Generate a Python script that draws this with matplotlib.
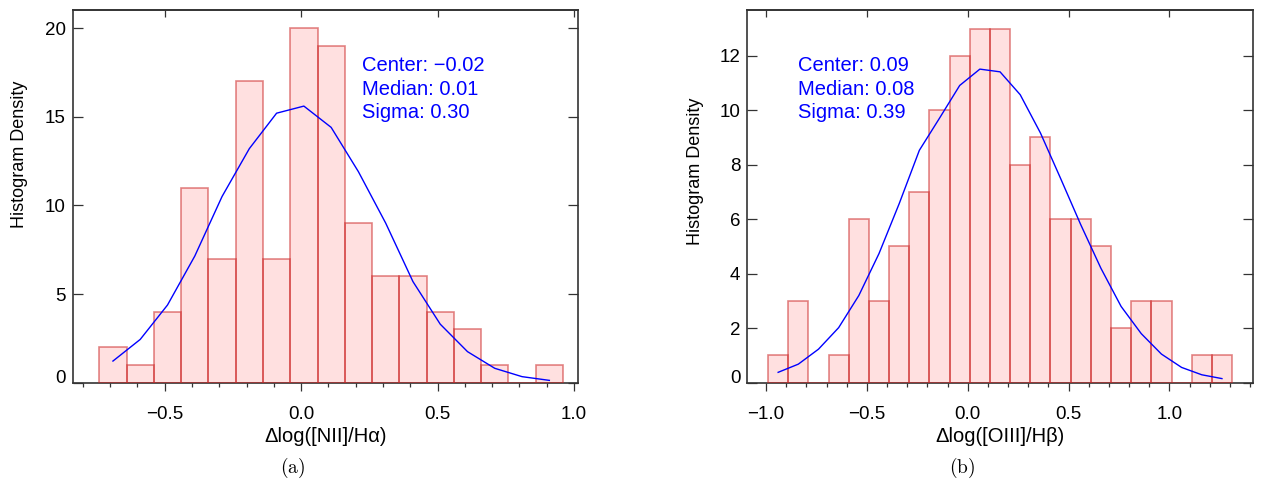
import matplotlib
matplotlib.use('Agg')
import matplotlib.pyplot as plt
from matplotlib.ticker import MultipleLocator, NullLocator

plt.rcParams['font.family'] = ['Liberation Sans', 'DejaVu Sans']
plt.rcParams['mathtext.fontset'] = 'cm'

BIN_WIDTH = 0.1

# Δlog([NII]/Hα) histogram
nii_centers = [-0.69, -0.59, -0.49, -0.39, -0.29, -0.19, -0.09, 0.01, 0.11,
               0.21, 0.31, 0.41, 0.51, 0.61, 0.71, 0.81, 0.91]
nii_counts = [2, 1, 4, 11, 7, 17, 7, 20, 19, 9, 6, 6, 4, 3, 1, 0, 1]
nii_fit = [1.22, 2.44, 4.38, 7.14, 10.5, 13.2, 15.2, 15.6, 14.4, 11.9, 9.0,
           5.7, 3.3, 1.75, 0.81, 0.34, 0.13]
nii_stats = ['Center: \u22120.02', 'Median: 0.01', 'Sigma: 0.30']

# Δlog([OIII]/Hβ) histogram
oiii_centers = [-0.94, -0.84, -0.74, -0.64, -0.54, -0.44, -0.34, -0.24, -0.14,
                -0.04, 0.06, 0.16, 0.26, 0.36, 0.46, 0.56, 0.66, 0.76, 0.86,
                0.96, 1.06, 1.16, 1.26]
oiii_counts = [1, 3, 0, 1, 6, 3, 5, 7, 10, 12, 13, 13, 8, 9, 6, 6, 5, 2, 3, 3,
               0, 1, 1]
oiii_fit = [0.38, 0.68, 1.23, 2.02, 3.2, 4.74, 6.57, 8.53, 9.71, 10.91, 11.51,
            11.41, 10.57, 9.17, 7.5, 5.8, 4.2, 2.8, 1.8, 1.05, 0.56, 0.29, 0.15]
oiii_stats = ['Center: 0.09', 'Median: 0.08', 'Sigma: 0.39']

AX_COLOR = '#333333'


def draw_panel(ax, centers, counts, fit, stats, xlabel, xlim, ylim, ystep,
               text_x, ylabel_pos):
    ax.bar(centers, counts, width=BIN_WIDTH, align='center',
           facecolor=(1, 0, 0, 0.12), edgecolor=(0.8, 0.15, 0.15, 0.55),
           linewidth=1.2, zorder=3)
    ax.plot(centers, fit, color='#0000ff', lw=1.0, zorder=4)

    ax.set_xlim(*xlim)
    ax.set_ylim(*ylim)

    for sp in ax.spines.values():
        sp.set_color(AX_COLOR)
        sp.set_linewidth(1.2)
        sp.set_zorder(2)

    # bottom: outward major + minor ticks, left/right: inward
    ax.xaxis.set_major_locator(MultipleLocator(0.5))
    ax.xaxis.set_minor_locator(MultipleLocator(0.1))
    ax.yaxis.set_major_locator(MultipleLocator(ystep))
    ax.yaxis.set_minor_locator(NullLocator())
    ax.tick_params(axis='x', which='major', direction='out', length=5.8,
                   width=0.9, color=AX_COLOR, pad=11, labelsize=13.5)
    ax.tick_params(axis='x', which='minor', direction='out', length=3.1,
                   width=0.9, color=AX_COLOR)
    ax.tick_params(axis='y', which='major', direction='in', length=7.2,
                   width=0.9, color=AX_COLOR, left=True, right=True,
                   pad=5, labelsize=13.5)

    # top axis: inward major ticks only
    top = ax.secondary_xaxis('top')
    top.xaxis.set_major_locator(MultipleLocator(0.5))
    top.xaxis.set_minor_locator(NullLocator())
    top.tick_params(axis='x', direction='in', length=5, width=0.9,
                    color=AX_COLOR, labeltop=False, labelbottom=False)
    top.spines['top'].set_color(AX_COLOR)
    top.spines['top'].set_linewidth(1.2)

    # zero label sits on the axis line
    yt = [v for v in ax.get_yticks() if ylim[0] <= v <= ylim[1]]
    ax.set_yticks(yt, [f'{v:g}' for v in yt])
    ax.get_yticklabels()[0].set_va('baseline')

    ax.set_xlabel(xlabel, fontsize=14.5, va='center')
    ax.xaxis.set_label_coords(0.5, -0.145)
    ax.set_ylabel('Histogram Density', fontsize=13, va='center')
    ax.yaxis.set_label_coords(*ylabel_pos)

    for s, ty in zip(stats, [0.837, 0.773, 0.710]):
        ax.text(text_x, ty, s, transform=ax.transAxes, color='#0000ff',
                fontsize=14.5, va='baseline', ha='left', zorder=5)


fig = plt.figure(figsize=(12.62, 4.83), dpi=100)
ax1 = fig.add_axes([0.0576, 0.2077, 0.4006, 0.7716])
ax2 = fig.add_axes([0.5922, 0.2077, 0.4010, 0.7716])

draw_panel(ax1, nii_centers, nii_counts, nii_fit, nii_stats,
           '\u0394log([NII]/H\u03b1)', (-0.8376, 1.016), (0, 21.02), 5,
           0.5716, (-0.106, 0.614))
draw_panel(ax2, oiii_centers, oiii_counts, oiii_fit, oiii_stats,
           '\u0394log([OIII]/H\u03b2)', (-1.0926, 1.416), (0, 13.68), 2,
           0.101, (-0.103, 0.568))

fig.text(0.2314, 0.031, r'$\mathrm{(a)}$', ha='center', va='center',
         fontsize=14)
fig.text(0.762, 0.031, r'$\mathrm{(b)}$', ha='center', va='center',
         fontsize=14)

fig.savefig('out.png', dpi=100)
